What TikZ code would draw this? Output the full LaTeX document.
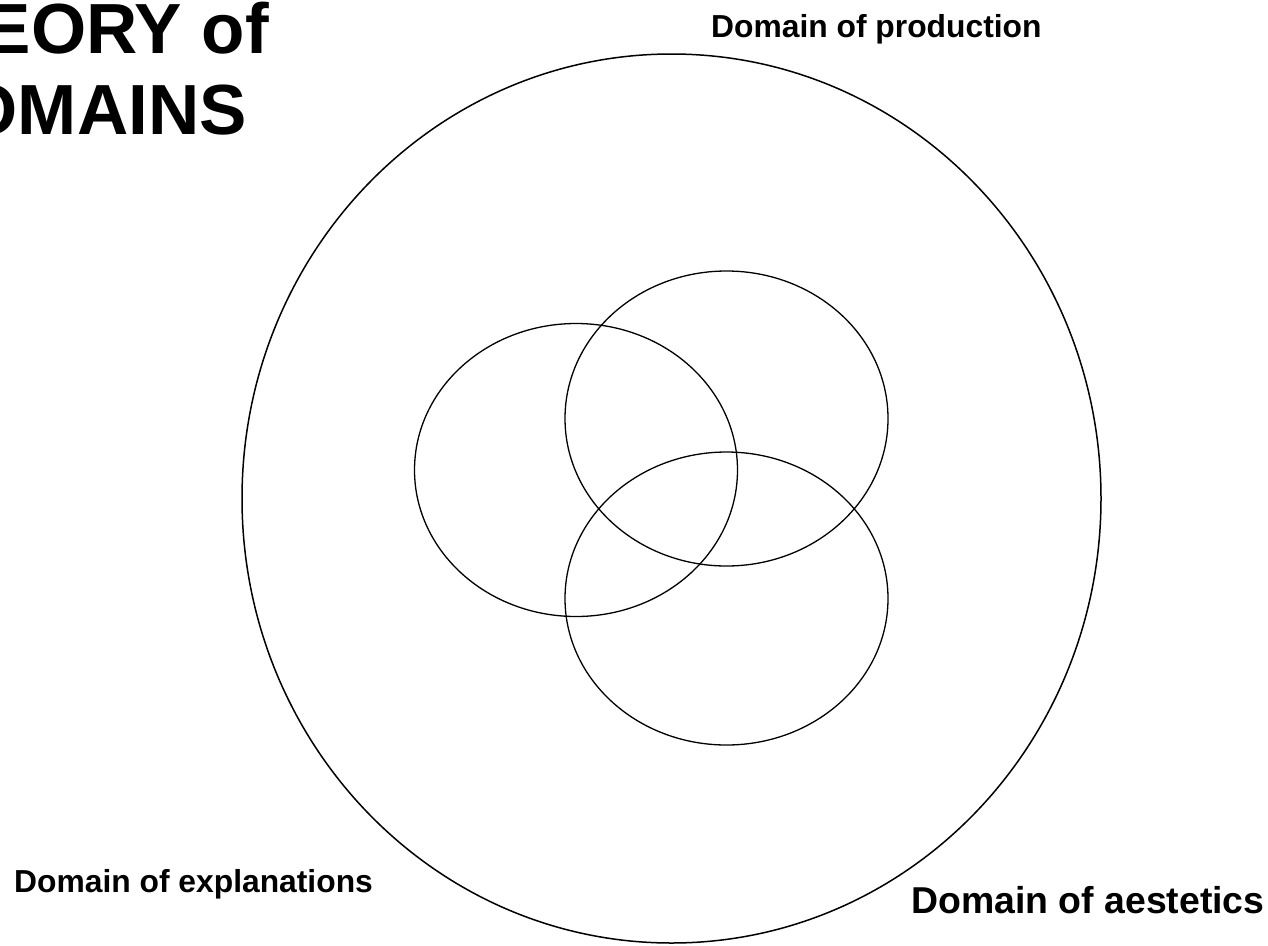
\documentclass[tikz,border=0pt]{standalone}
\usepackage{fontspec}
\setmainfont{Liberation Sans}
\begin{document}
\begin{tikzpicture}[x=1pt,y=-1pt,
    label/.style={font=\bfseries\fontsize{31.8}{36}\selectfont,inner sep=0pt,anchor=base west},
    ring/.style={draw,line width=1.5pt}]
      \useasboundingbox (0,0) rectangle (1268,945);
      \node[font=\bfseries\fontsize{71}{81}\selectfont,align=center,inner sep=0pt,anchor=north]
        (title) at (79,2) {THEORY of\\DOMAINS};
      \node[label] (prod) at (711,37) {Domain of production};
      \node[label] (expl) at (14,892) {Domain of explanations};
      \node[label,font=\bfseries\fontsize{37.4}{42}\selectfont] (aest) at (911,913) {Domain of aestetics};
      \draw[ring] (671.5,498.5) ellipse [x radius=429.5, y radius=444.5];
      \begin{scope}[line width=1.3pt]
        \draw (576,470) ellipse [x radius=161.5, y radius=146.5];
        \draw (726.5,418.5) ellipse [x radius=161.5, y radius=147.5];
        \draw (726.5,598.5) ellipse [x radius=161.5, y radius=146.5];
      \end{scope}
    \end{tikzpicture}
\end{document}
